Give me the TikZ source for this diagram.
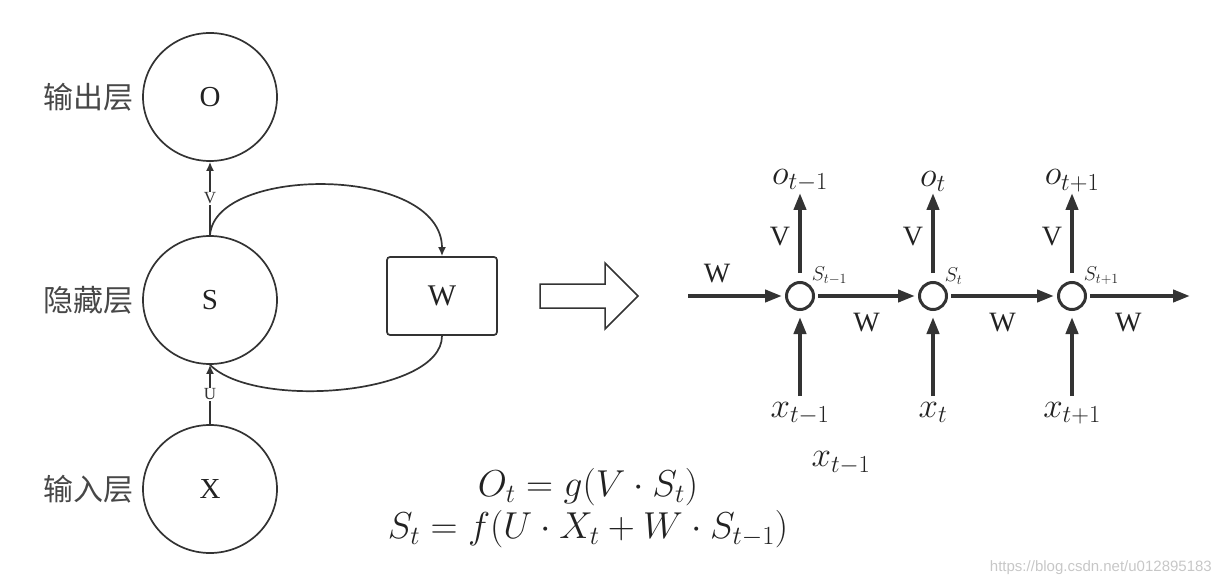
\RequirePackage{fix-cm}
\documentclass[tikz,border=0pt]{standalone}
\usepackage{amsmath}
\usepackage{fontspec}
\newfontfamily\cjkfont{Noto Sans CJK SC}
\newfontfamily\markfont{Liberation Sans}
\newfontfamily\romanfont{Liberation Serif}
\usetikzlibrary{shapes.geometric, arrows.meta, positioning, calc}
\definecolor{rnngray}{RGB}{51,51,51}
\definecolor{rnntext}{RGB}{34,34,34}

\begin{document}
\begin{tikzpicture}[x=1pt, y=-1pt,
    layer/.style={draw=rnngray, line width=1.7pt, ellipse, minimum width=134pt, minimum height=128pt, inner sep=0pt, text=rnntext, font=\romanfont\fontsize{29}{32}\selectfont},
    tag/.style={font=\cjkfont\fontsize{30}{33}\selectfont, text=rnngray!90, inner sep=0pt},
    wbox/.style={draw=rnngray, line width=1.7pt, rounded corners=3pt, minimum width=110pt, minimum height=78pt, text=rnntext, font=\romanfont\fontsize{30}{33}\selectfont},
    thin/.style={draw=rnngray, line width=1.7pt},
    thin arrow/.style={thin, -{Latex[length=9pt,width=8pt]}},
    vlabel/.style={fill=white, inner sep=1pt, text=rnngray, font=\romanfont\fontsize{17}{19}\selectfont},
    state/.style={circle, draw=rnngray, line width=3pt, minimum size=27pt, inner sep=0pt},
    flow/.style={draw=rnngray, line width=4pt, -{Triangle[length=17pt,width=12pt]}},
    lbl/.style={inner sep=2pt, text=rnntext, font=\romanfont\fontsize{28}{31}\selectfont},
    mlabel/.style={inner sep=1pt, text=rnntext, font=\fontsize{35}{39}\selectfont},
    slabel/.style={inner sep=1pt, text=rnntext, font=\fontsize{20}{22}\selectfont}
]
    \useasboundingbox (0,0) rectangle (1217,585);

    % folded network
    \node[layer] (O) at (210,97) {O};
    \node[layer] (S) at (210,300) {S};
    \node[layer] (X) at (210,489) {X};
    \node[tag, left=8pt of O] (outtag) {输出层};
    \node[tag, left=8pt of S] (hidtag) {隐藏层};
    \node[tag, left=8pt of X] (intag) {输入层};
    \node[wbox] (W) at (442,296) {W};

    \draw[thin arrow] (S) -- node[vlabel] {V} (O);
    \draw[thin arrow] (X) -- node[vlabel] {U} (S);
    \draw[thin arrow] (S.north) .. controls (215,165) and (442,165) .. (W.north);
    \draw[thin] (W.south) .. controls (442,395) and (255,410) .. (S.south);

    % unfold arrow
    \draw[rnngray, line width=1.5pt, line join=miter] (540,284) -- (605,284) -- (605,263) -- (638,296) -- (605,329) -- (605,308) -- (540,308) -- cycle;

    % unfolded network
    \node[state] (s1) at (800,296) {};
    \node[state] (s2) at (933,296) {};
    \node[state] (s3) at (1072,296) {};
    \node[slabel, anchor=south west] (st1) at (s1.north east) {$S_{t-1}$};
    \node[slabel, anchor=south west] (st2) at (s2.north east) {$S_t$};
    \node[slabel, anchor=south west] (st3) at (s3.north east) {$S_{t+1}$};
    \coordinate (in) at (688,296);
    \coordinate (out) at (1190,296);

    \draw[flow, shorten >=3pt] (in) -- node[lbl, pos=0.3, above=9pt] {W} (s1);
    \draw[flow, shorten <=3pt, shorten >=3pt] (s1) -- node[lbl, below=13pt] {W} (s2);
    \draw[flow, shorten <=3pt, shorten >=3pt] (s2) -- node[lbl, below=13pt] {W} (s3);
    \draw[flow, shorten <=3pt] (s3) -- node[lbl, pos=0.4, below=13pt] {W} (out);

    \node[mlabel, anchor=south] (o1) at (800,193) {$o_{t-1}$};
    \node[mlabel, anchor=south] (o2) at (933,193) {$o_t$};
    \node[mlabel, anchor=south] (o3) at (1072,193) {$o_{t+1}$};
    \draw[flow, shorten <=8pt] (s1) -- node[lbl, left=6pt] {V} (o1);
    \draw[flow, shorten <=8pt] (s2) -- node[lbl, left=6pt] {V} (o2);
    \draw[flow, shorten <=8pt] (s3) -- node[lbl, left=6pt] {V} (o3);

    \node[mlabel, anchor=north] (x1) at (800,401) {$x_{t-1}$};
    \node[mlabel, anchor=north] (x2) at (933,401) {$x_t$};
    \node[mlabel, anchor=north] (x3) at (1072,401) {$x_{t+1}$};
    \draw[flow, shorten <=5pt, shorten >=6pt] (x1) -- (s1);
    \draw[flow, shorten <=5pt, shorten >=6pt] (x2) -- (s2);
    \draw[flow, shorten <=5pt, shorten >=6pt] (x3) -- (s3);
    \node[mlabel] (xextra) at (841,463) {$x_{t-1}$};

    % equations
    \node[mlabel, font=\fontsize{37.5}{42}\selectfont, align=center] (eqs) at (588,508) {$O_t = g(V\cdot S_t)$\\$S_t = f(U\cdot X_t + W\cdot S_{t-1})$};

    \node[anchor=east, inner sep=0pt, text=black!22, font=\markfont\fontsize{15}{17}\selectfont] (mark) at (1212,568) {https://blog.csdn.net/u012895183};
\end{tikzpicture}
\end{document}
